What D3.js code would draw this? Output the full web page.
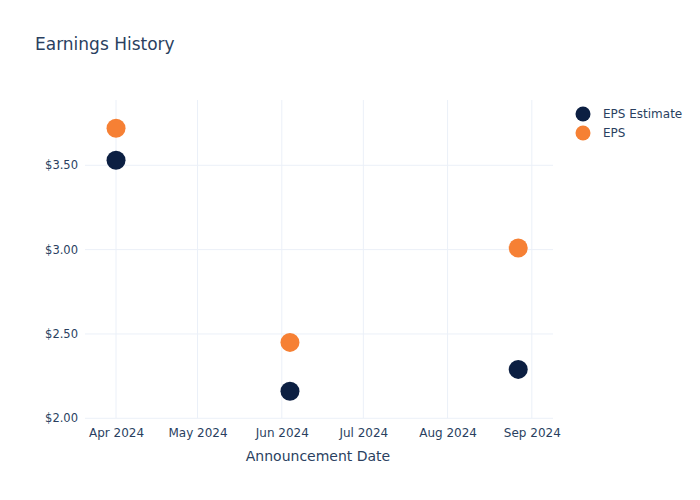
<!DOCTYPE html>
<html><head><meta charset="utf-8">
<script src="https://cdn.jsdelivr.net/npm/d3@7"></script>
<style>body{margin:0;background:#fff}text{font-family:"DejaVu Sans",Verdana,sans-serif}</style>
</head><body>
<script>
const dates = ["2024-04-01","2024-06-04","2024-08-27"];
const epsEstimate = [3.53, 2.16, 2.29];
const eps = [3.72, 2.45, 3.01];
const yTicks = [2.0, 2.5, 3.0, 3.5];
const xTickDates = ["2024-04-01","2024-05-01","2024-06-01","2024-07-01","2024-08-01","2024-09-01"];
const seriesNames = ["EPS Estimate","EPS"];
const colors = ["#0c1f42","#f68034"];

const W=700,H=500;
const svg=d3.select("body").append("svg").attr("width",W).attr("height",H);
const parse=d3.utcParse("%Y-%m-%d");
const L=85,R=553,T=100,B=418.3;
const x=d3.scaleUtc().domain([new Date(Date.UTC(2024,2,20,14)), new Date(Date.UTC(2024,8,8,19))]).range([L,R]);
const y=d3.scaleLinear().domain([2.0,3.887]).range([B,T]);
const grid="#ebf0f8", txt="#2a3f5f";

svg.append("text").attr("x",35).attr("y",50).attr("font-size",17).attr("fill",txt).text("Earnings History");

const g=svg.append("g");
g.selectAll(".vg").data(xTickDates).join("line")
 .attr("x1",d=>x(parse(d))).attr("x2",d=>x(parse(d))).attr("y1",T).attr("y2",B)
 .attr("stroke",grid).attr("stroke-width",1);
g.selectAll(".hg").data(yTicks).join("line")
 .attr("x1",L).attr("x2",R).attr("y1",d=>y(d)).attr("y2",d=>y(d))
 .attr("stroke",grid).attr("stroke-width",1);

const xAxis=d3.axisBottom(x).tickValues(xTickDates.map(parse)).tickFormat(d3.utcFormat("%b %Y")).tickSize(0).tickPadding(10);
const xa=svg.append("g").attr("transform",`translate(0,${B})`).call(xAxis);
xa.select(".domain").remove();
xa.selectAll("text").attr("font-size",12).attr("fill",txt).attr("font-family","DejaVu Sans");

const yAxis=d3.axisLeft(y).tickValues(yTicks).tickFormat(d=>"$"+d3.format(".2f")(d)).tickSize(0).tickPadding(6);
const ya=svg.append("g").attr("transform",`translate(${L-1},0)`).call(yAxis);
ya.select(".domain").remove();
ya.selectAll("text").attr("font-size",11.5).attr("fill",txt).attr("font-family","DejaVu Sans");

svg.append("text").attr("x",(L+R)/2-1).attr("y",461).attr("text-anchor","middle").attr("font-size",14).attr("fill",txt).text("Announcement Date");

const series=[epsEstimate,eps];
series.forEach((vals,i)=>{
  svg.append("g").selectAll("circle").data(vals).join("circle")
   .attr("cx",(d,j)=>x(parse(dates[j]))).attr("cy",d=>y(d)).attr("r",9.5).attr("fill",colors[i]);
});

const leg=svg.append("g");
seriesNames.forEach((n,i)=>{
  leg.append("circle").attr("cx",583).attr("cy",114+i*19).attr("r",7.5).attr("fill",colors[i]);
  leg.append("text").attr("x",603).attr("y",118+i*19).attr("font-size",12).attr("fill",txt).text(n);
});
</script>
</body></html>
